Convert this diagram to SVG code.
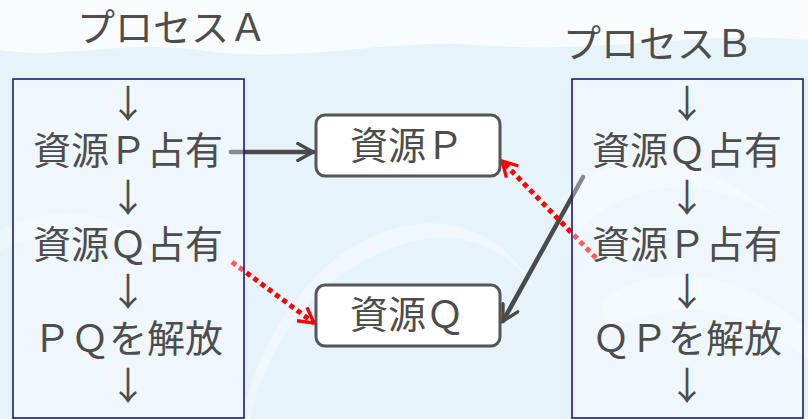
<svg xmlns="http://www.w3.org/2000/svg" width="808" height="419" viewBox="0 0 808 419">
<style>
  .t{font-family:"Noto Sans CJK JP","Noto Sans",sans-serif;font-size:38px;fill:#4d4d4d;text-anchor:middle}
  .proc{fill:#ffffff;fill-opacity:0.35;stroke:#1a1a80;stroke-width:1.6}
  .res{fill:#ffffff;stroke:#555555;stroke-width:3}
  .solid{fill:none;stroke:#4a4a4a;stroke-width:4.5;stroke-linecap:round}
  .dot{fill:none;stroke:#ff0000;stroke-width:5;stroke-dasharray:5 4}
</style>
<defs>
  <marker id="ag" viewBox="0 0 12 12" refX="10" refY="6" markerWidth="4.5" markerHeight="4.5" markerUnits="strokeWidth" orient="auto">
    <path d="M1,1 L10,6 L1,11" fill="none" stroke="#4a4a4a" stroke-width="2" stroke-linecap="round"/>
  </marker>
  <marker id="ar" viewBox="0 0 12 12" refX="10" refY="6" markerWidth="4" markerHeight="4" markerUnits="strokeWidth" orient="auto">
    <path d="M1,1 L10,6 L1,11" fill="none" stroke="#ff0000" stroke-width="2"/>
  </marker>
</defs>
<g id="background">
  <rect width="808" height="419" fill="#e6f3fb"/>
  <path d="M0,0 H808 V40 C700,30 600,55 480,45 C380,38 300,65 200,50 C120,40 60,60 0,50 Z" fill="#ffffff" opacity="0.7"/>
  <path d="M250,419 C270,330 330,260 420,240 C480,230 520,260 540,300 C520,250 470,215 410,225 C330,240 270,310 240,419 Z" fill="#ffffff" opacity="0.35"/>
  <path d="M560,200 C620,140 700,150 780,220 C720,180 640,170 580,230 Z" fill="#ffffff" opacity="0.3"/>
  <path d="M0,230 C60,200 120,210 160,260 C110,225 60,225 0,250 Z" fill="#ffffff" opacity="0.3"/>
  <path d="M600,300 C660,260 740,270 808,330 L808,360 C740,300 670,300 610,330 Z" fill="#ffffff" opacity="0.3"/>
</g>
<g id="connectors">
  <line class="solid" x1="231" y1="152" x2="313" y2="152" marker-end="url(#ag)"/>
  <line class="dot" x1="232" y1="262" x2="314" y2="323" marker-end="url(#ar)"/>
  <line class="solid" x1="583" y1="177" x2="503" y2="321" marker-end="url(#ag)"/>
  <line class="dot" x1="596" y1="258" x2="502" y2="161" marker-end="url(#ar)"/>
</g>
<g id="processA">
  <text class="t" x="172" y="41">プロセスＡ</text>
  <rect class="proc" x="13" y="79" width="231" height="339"/>
  <text class="t" x="128" y="117">↓</text>
  <text class="t" x="128" y="164">資源Ｐ占有</text>
  <text class="t" x="128" y="211">↓</text>
  <text class="t" x="128" y="258">資源Ｑ占有</text>
  <text class="t" x="128" y="305">↓</text>
  <text class="t" x="128" y="352">ＰＱを解放</text>
  <text class="t" x="128" y="399">↓</text>
</g>
<g id="processB">
  <text class="t" x="658" y="57">プロセスＢ</text>
  <rect class="proc" x="572" y="79" width="231" height="339"/>
  <text class="t" x="687" y="117">↓</text>
  <text class="t" x="687" y="164">資源Ｑ占有</text>
  <text class="t" x="687" y="211">↓</text>
  <text class="t" x="687" y="258">資源Ｐ占有</text>
  <text class="t" x="687" y="305">↓</text>
  <text class="t" x="687" y="352">ＱＰを解放</text>
  <text class="t" x="687" y="399">↓</text>
</g>
<g id="resourceP">
  <rect class="res" x="316" y="115" width="184" height="61" rx="9"/>
  <text class="t" x="407" y="159">資源Ｐ</text>
</g>
<g id="resourceQ">
  <rect class="res" x="316" y="285" width="184" height="61" rx="9"/>
  <text class="t" x="407" y="328">資源Ｑ</text>
</g>
</svg>
